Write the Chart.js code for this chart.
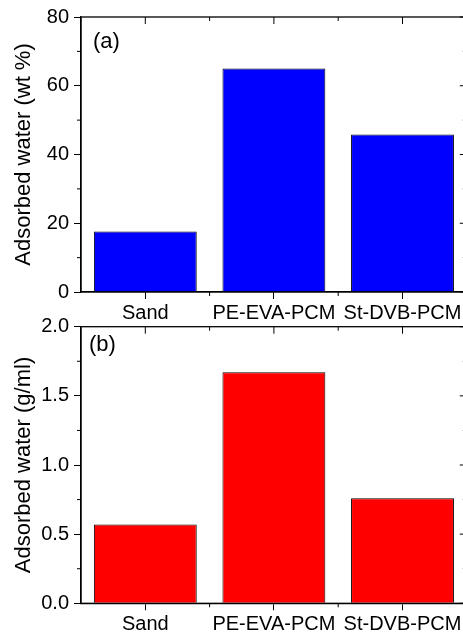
<!DOCTYPE html>
<html><head><meta charset="utf-8">
<script src="https://cdn.jsdelivr.net/npm/chart.js@4/dist/chart.umd.min.js"></script>
<style>
html,body{margin:0;padding:0;background:#fff;overflow:hidden;width:463px;height:638px;position:relative;}
canvas{position:absolute;left:0;display:block;}
#c1{top:0;}
#c2{top:300px;}
</style></head><body>
<canvas id="c1" width="470" height="322"></canvas>
<canvas id="c2" width="470" height="338"></canvas>
<script>
// ---- data ----
const categories = ['Sand', 'PE-EVA-PCM', 'St-DVB-PCM'];
const wtPercent = [17.6, 65.0, 45.8];          // panel (a)
const gPerMl = [0.57, 1.67, 0.76];             // panel (b)
const wtMajorStep = 20, wtMax = 80;
const wtMinorTicks = [10, 30, 50, 70];
const gMajorStep = 0.5, gMax = 2.0;
const gMinorTicks = [0.25, 0.75, 1.25, 1.75];
const titleA = 'Adsorbed water (wt %)';
const titleB = 'Adsorbed water (g/ml)';
const panelA = '(a)';
const panelB = '(b)';

const FONT = "'Liberation Sans', Arial, sans-serif";

const framePlugin = {
  id: 'frame',
  afterDraw(chart, args, opts) {
    const {ctx, chartArea: a, scales: {x, y}} = chart;
    const line = (x1, y1, x2, y2) => { ctx.beginPath(); ctx.moveTo(x1, y1); ctx.lineTo(x2, y2); ctx.stroke(); };
    ctx.save();
    ctx.strokeStyle = '#000';
    ctx.lineWidth = 1.3;
    ctx.strokeRect(a.left, a.top, a.right - a.left, a.bottom - a.top);
    ctx.lineWidth = 1;
    categories.forEach((c, i) => { const px = x.getPixelForValue(i); line(px, a.top, px, a.top + 7); });
    for (let i = 0; i < categories.length - 1; i++) {
      const px = (x.getPixelForValue(i) + x.getPixelForValue(i + 1)) / 2;
      line(px, a.top, px, a.top + 4);
      line(px, a.bottom, px, a.bottom + 4);
    }
    opts.minor.forEach(v => {
      const py = y.getPixelForValue(v);
      line(a.left - 4, py, a.left, py);
      line(a.right, py, a.right - 4, py);
    });
    y.ticks.forEach(t => { const py = y.getPixelForValue(t.value); line(a.right, py, a.right - 7, py); });
    ctx.fillStyle = '#000';
    ctx.font = '22px ' + FONT;
    ctx.textBaseline = 'middle';
    ctx.textAlign = 'left';
    ctx.fillText(opts.label, a.left + opts.labelDx, a.top + opts.labelDy);
    ctx.restore();
  }
};

function makeChart(id, values, color, max, step, minor, title, label, padTop, xHeight, decimals, labelDx, labelDy) {
  return new Chart(document.getElementById(id), {
    type: 'bar',
    data: {
      labels: categories,
      datasets: [{
        data: values,
        backgroundColor: color,
        borderColor: '#000',
        borderWidth: 1,
        categoryPercentage: 1.0,
        barPercentage: 0.8
      }]
    },
    plugins: [framePlugin],
    options: {
      responsive: false,
      animation: false,
      events: [],
      layout: {padding: {top: padTop, right: 3.2, left: 0, bottom: 0}},
      plugins: {
        legend: {display: false},
        tooltip: {enabled: false},
        frame: {minor: minor, label: label, labelDx: labelDx, labelDy: labelDy}
      },
      scales: {
        x: {
          offset: true,
          grid: {offset: false, drawOnChartArea: false, drawTicks: true, tickLength: 7, tickColor: '#000', tickWidth: 1},
          border: {display: true, color: '#000', width: 1.3},
          ticks: {color: '#000', font: {family: FONT, size: 20}, padding: 2, maxRotation: 0, autoSkip: false},
          afterFit: s => { s.height = xHeight; }
        },
        y: {
          min: 0, max: max,
          grid: {drawOnChartArea: false, drawTicks: true, tickLength: 7, tickColor: '#000', tickWidth: 1},
          border: {display: true, color: '#000', width: 1.3},
          ticks: {stepSize: step, color: '#000', font: {family: FONT, size: 20}, padding: 5,
                  callback: v => Number(v).toFixed(decimals)},
          title: {display: true, text: title, color: '#000', font: {family: FONT, size: 22}, padding: {top: 11, bottom: 0}},
          afterFit: s => { s.width = 81; }
        }
      }
    }
  });
}

makeChart('c1', wtPercent, '#0000ff', wtMax, wtMajorStep, wtMinorTicks, titleA, panelA, 15, 30, 0, 12, 25);
makeChart('c2', gPerMl, '#ff0000', gMax, gMajorStep, gMinorTicks, titleB, panelB, 26.7, 34.7, 1, 8, 18);
</script>
</body></html>
